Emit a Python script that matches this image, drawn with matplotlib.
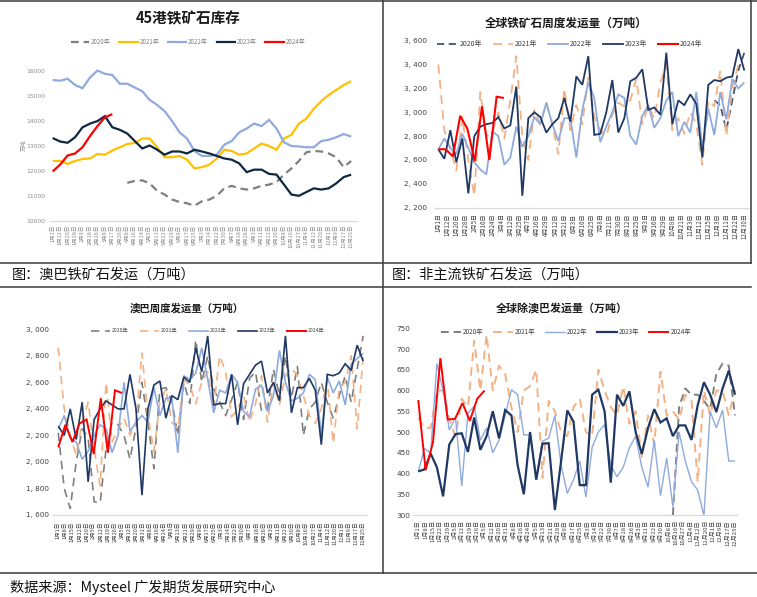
import numpy as np
import matplotlib.pyplot as plt
from matplotlib.lines import Line2D

plt.rcParams['font.family'] = ['Noto Sans CJK SC', 'DejaVu Sans']

W, H = 757, 597
nan = np.nan
years = ["2020年", "2021年", "2022年", "2023年", "2024年"]

# ---- 45港铁矿石库存 (万吨) ----
ticks1 = ["1月1日", "1月12日", "1月20日", "1月28日", "2月9日", "2月18日", "2月26日", "3月8日",
          "3月17日", "3月26日", "4月8日", "4月16日", "4月24日", "5月5日", "5月13日", "5月21日",
          "5月29日", "6月9日", "6月17日", "6月25日", "7月3日", "7月14日", "7月22日", "7月30日",
          "8月7日", "8月18日", "8月26日", "9月3日", "9月11日", "9月22日", "9月30日", "10月8日",
          "10月16日", "10月27日", "11月4日", "11月12日", "11月20日", "12月1日", "12月9日",
          "12月17日", "12月25日"]
inv_2020 = [nan] * 10 + [11520, 11600, 11620, 11500, 11200, 11050, 10850, 10750, 10700, 10600,
                         10780, 10850, 11000, 11300, 11400, 11300, 11250, 11300, 11400, 11450,
                         11550, 11850, 12100, 12400, 12750, 12800, 12780, 12700, 12550, 12150, 12400]
inv_2021 = [12400, 12400, 12280, 12400, 12480, 12500, 12680, 12650, 12820, 12950, 13080, 13120,
            13300, 13300, 12950, 12550, 12550, 12600, 12450, 12100, 12150, 12250, 12500, 12850,
            12800, 12650, 12700, 12900, 13100, 13000, 12850, 13300, 13450, 13900, 14100, 14500,
            14800, 15050, 15250, 15450, 15600]
inv_2022 = [15650, 15620, 15700, 15450, 15320, 15750, 16030, 15900, 15850, 15500, 15500, 15350,
            15200, 14850, 14650, 14400, 14000, 13550, 13300, 12800, 12600, 12600, 12650, 13050,
            13200, 13550, 13700, 13900, 13800, 14050, 13700, 13150, 13000, 12980, 12950, 12950,
            13200, 13250, 13350, 13480, 13380]
inv_2023 = [13320, 13180, 13130, 13350, 13750, 13900, 14000, 14200, 13750, 13650, 13500, 13200,
            12900, 13020, 12850, 12650, 12780, 12780, 12700, 12850, 12780, 12700, 12600, 12500,
            12450, 12300, 11950, 12050, 12050, 11880, 11850, 11450, 11050, 11000, 11150, 11300,
            11250, 11300, 11500, 11750, 11850]
inv_2024 = [11980, 12250, 12620, 12700, 12950, 13400, 13800, 14150, 14280]

# ---- 全球铁矿石周度发运量 ----
ticks2 = ["1月1日", "1月12日", "1月20日", "1月28日", "2月5日", "2月16日", "2月24日", "3月4日",
          "3月12日", "3月25日", "4月7日", "4月16日", "4月29日", "5月12日", "5月21日", "6月3日",
          "6月16日", "6月25日", "7月8日", "7月21日", "7月30日", "8月12日", "8月25日", "9月3日",
          "9月16日", "9月29日", "10月8日", "10月21日", "11月3日", "11月12日", "11月25日",
          "12月3日", "12月11日", "12月22日", "12月30日"]
glb_2020 = [nan] * 46 + [3100, 3060, 2850, 3100, 3350, 3500]
glb_2021 = [3400, 2850, 2700, 2510, 2960, 2600, 2300, 3170, 2800, 2830, 3000, 2780, 3100, 3470,
            2800, 2600, 3020, 2900, 3080, 2900, 2650, 3200, 2850, 3060, 2900, 3300, 2960, 2850,
            2800, 2980, 3080, 3050, 3100, 3280, 2900, 3050, 2950, 3250, 3400, 2850, 2950, 2820,
            3000, 2900, 2560, 3100, 3050, 3350, 2800, 3200, 3400, 3400]
glb_2022 = [2690, 2780, 2700, 2650, 2820, 2700, 2580, 2520, 2480, 2840, 2800, 2560, 2620, 2880,
            2710, 2800, 2960, 2900, 3080, 2900, 2760, 2950, 2950, 2620, 3020, 3250, 3120, 2750,
            2880, 3000, 3150, 3120, 2800, 2730, 2970, 3060, 2870, 2950, 3100, 3170, 2800, 2920,
            2830, 3170, 2700, 3030, 2810, 3170, 2940, 3280, 3200, 3250]
glb_2023 = [2690, 2610, 2850, 2580, 2780, 2320, 2800, 2880, 2900, 2910, 2960, 2865, 2890, 3215,
            2300, 2950, 3000, 2960, 2830, 2900, 2950, 3120, 2920, 3300, 3230, 3470, 2810, 2820,
            3000, 3270, 2830, 2950, 3260, 3290, 3360, 3020, 3040, 2980, 3500, 2900, 3100, 3060,
            3150, 3070, 2620, 3230, 3270, 3260, 3290, 3300, 3530, 3350]
glb_2024 = [2690, 2690, 2630, 2970, 2860, 2590, 3050, 2600, 3130, 3120]

# ---- 澳巴周度发运量 / 全球除澳巴发运量 ----
ticks3 = ["1月1日", "1月8日", "1月15日", "1月22日", "1月29日", "2月5日", "2月12日", "2月19日",
          "2月26日", "3月5日", "3月12日", "3月20日", "3月31日", "4月8日", "4月16日", "4月24日",
          "5月5日", "5月13日", "5月21日", "5月29日", "6月9日", "6月17日", "6月25日", "7月3日",
          "7月14日", "7月22日", "7月30日", "8月7日", "8月18日", "8月26日", "9月3日", "9月11日",
          "9月22日", "9月30日", "10月8日", "10月16日", "10月27日", "11月4日", "11月12日",
          "11月20日", "12月1日", "12月9日", "12月17日", "12月25日"]
ab_2020 = [2220, 1800, 1650, 2000, 2250, 2180, 1700, 1690, 2100, 2300, 2280, 2200, 2020, 2260,
           2600, 2300, 1950, 2550, 2560, 2460, 2200, 2600, 2440, 2920, 2600, 2800, 2550, 2450,
           2350, 2470, 2600, 2320, 2630, 2680, 2380, 2400, 2700, 2500, 2800, 2480, 2720, 2200,
           2400, 2450, 2600, 2450, 2330, 2500, 2650, 2450, 2700, 2950]
ab_2021 = [2860, 2400, 2200, 2050, 2300, 2450, 2100, 1820, 2600, 2150, 2250, 2330, 2200, 2300,
           2820, 2350, 2080, 2450, 2550, 2300, 2250, 2620, 2580, 2440, 2600, 2680, 2410, 2800,
           2680, 2340, 2400, 2500, 2300, 2440, 2650, 2300, 2600, 2430, 2650, 2710, 2650, 2500,
           2350, 2290, 2400, 2620, 2140, 2560, 2600, 2800, 2250, 2790]
ab_2022 = [2250, 2350, 2180, 2150, 2020, 2080, 2200, 2280, 2250, 2070, 2200, 2600, 2230, 2300,
           2350, 2300, 2560, 2350, 2480, 2480, 2070, 2650, 2620, 2670, 2860, 2620, 2370, 2540,
           2520, 2660, 2600, 2380, 2340, 2550, 2580, 2380, 2500, 2840, 2600, 2460, 2480, 2520,
           2660, 2620, 2200, 2640, 2520, 2610, 2430, 2740, 2780, 2820]
ab_2023 = [2270, 2200, 2400, 2170, 2450, 1850, 2320, 2400, 2460, 2430, 2400, 2400, 2660, 2400,
           1750, 2400, 2580, 2610, 2330, 2500, 2470, 2640, 2600, 2860, 2680, 2950, 2430, 2440,
           2440, 2660, 2280, 2590, 2660, 2730, 2760, 2520, 2600, 2460, 2950, 2370, 2560, 2560,
           2630, 2540, 2130, 2660, 2650, 2670, 2740, 2690, 2880, 2760]
ab_2024 = [2110, 2280, 2150, 2290, 2320, 2060, 2480, 2070, 2540, 2520]

ex_2020 = [nan] * 41 + [300, 560, 605, 590, 590, 575, 555, 640, 665, 660, 540]
ex_2021 = [535, 510, 510, 600, 600, 530, 490, 580, 560, 720, 600, 735, 600, 660, 640, 560, 500,
           600, 610, 650, 390, 575, 550, 500, 490, 560, 580, 500, 490, 650, 600, 560, 540, 610,
           520, 550, 440, 540, 470, 645, 540, 550, 530, 590, 575, 380, 600, 540, 600, 600, 540, 600]
ex_2022 = [405, 460, 450, 665, 600, 505, 535, 370, 545, 562, 480, 510, 450, 480, 540, 602, 590,
           493, 493, 390, 478, 485, 540, 420, 352, 385, 430, 343, 463, 500, 518, 420, 392, 415,
           462, 490, 415, 367, 480, 347, 437, 320, 500, 430, 380, 360, 298, 550, 510, 553, 430, 430]
ex_2023 = [405, 410, 448, 415, 345, 470, 495, 497, 452, 535, 457, 490, 550, 485, 553, 540, 420,
           350, 500, 385, 472, 473, 312, 430, 552, 525, 372, 372, 590, 602, 550, 378, 590, 563,
           598, 500, 447, 510, 555, 523, 533, 490, 516, 516, 481, 565, 620, 590, 548, 605, 648, 590]
ex_2024 = [577, 408, 475, 678, 530, 532, 570, 527, 580, 600]

fig = plt.figure(figsize=(W / 100, H / 100), dpi=100)


def box(x0, y0, x1, y1):
    # axes placed by pixel edges (top-left origin)
    return fig.add_axes([x0 / W, 1 - y1 / H, (x1 - x0) / W, (y1 - y0) / H])


def xs(nlab, n, grid=None):
    grid = grid or n
    return np.linspace(0, nlab - 1, grid)[:n]


def style(ax, labels, xlim, ylim, yticks, ylabels, xs_, ys_, col, xpad, ypad):
    ax.set_xlim(*xlim)
    ax.set_ylim(*ylim)
    ax.set_xticks(np.arange(len(labels)))
    ax.set_xticklabels(labels, rotation=90, fontsize=xs_, color=col)
    ax.set_yticks(yticks)
    ax.set_yticklabels(ylabels, fontsize=ys_, color=col, family='DejaVu Sans')
    for s in ['top', 'right', 'left']:
        ax.spines[s].set_visible(False)
    ax.spines['bottom'].set_color('#D9D9D9')
    ax.spines['bottom'].set_linewidth(0.9)
    ax.tick_params(length=0)
    ax.tick_params(axis='x', pad=xpad)
    ax.tick_params(axis='y', pad=ypad)
    ax.patch.set_alpha(0)


def legend(ax, styles, cx, cy, fs, hl, cs, col):
    handles = [Line2D([], [], **st) for st in styles]
    ax.legend(handles, years, loc='center', bbox_to_anchor=(cx / W, 1 - cy / H),
              bbox_transform=fig.transFigure, ncol=5, frameon=False, fontsize=fs,
              handlelength=hl, columnspacing=cs, handletextpad=0.3, labelcolor=col,
              borderpad=0, borderaxespad=0)


def draw(ax, series, styles, nlab, grid24):
    for i, (vals, st) in enumerate(zip(series, styles)):
        g = grid24 if i == 4 else None
        ax.plot(xs(nlab, len(vals), g), vals, clip_on=False, solid_capstyle='butt',
                solid_joinstyle='miter', **st)


# panel 1
st1 = [dict(color='#7F7F7F', lw=1.6, ls='--', dashes=(3.5, 2.2)),
       dict(color='#FFC000', lw=1.6, ls='-'),
       dict(color='#8FAADC', lw=1.6, ls='-'),
       dict(color='#0E2841', lw=1.6, ls='-'),
       dict(color='#FF0000', lw=1.6, ls='-')]
ax1 = box(49.7, 71.3, 357.1, 220.7)
draw(ax1, [inv_2020, inv_2021, inv_2022, inv_2023, inv_2024], st1, len(ticks1), len(ticks1))
yt1 = np.arange(10000, 16001, 1000)
style(ax1, ticks1, (-0.4, 40.8), (10000, 16000), yt1, [str(v) for v in yt1],
      4.0, 4.3, '#8C8C8C', 3.0, 3.2)
legend(ax1, st1, 188, 42, 4.4, 3.0, 1.4, '#7F7F7F')
ax1.text(188 / W, 1 - 18 / H, "45港铁矿石库存", transform=fig.transFigure, ha='center',
         va='center', fontsize=10.5, fontweight='bold', color='#1a1a1a')
fig.text(24 / W, 1 - 145 / H, "万吨", rotation=90, ha='center', va='center',
         fontsize=4.2, color='#8C8C8C')

# panel 2
st2 = [dict(color='#44546A', lw=1.3, ls='--', dashes=(4, 2.5)),
       dict(color='#F4B183', lw=1.3, ls='--', dashes=(5, 3.5)),
       dict(color='#8FAADC', lw=1.3, ls='-'),
       dict(color='#1F3864', lw=1.3, ls='-'),
       dict(color='#FF0000', lw=1.5, ls='-')]
ax2 = box(435.0, 40.7, 747.9, 207.7)
draw(ax2, [glb_2020, glb_2021, glb_2022, glb_2023, glb_2024], st2, len(ticks2), 43)
yt2 = np.arange(2200, 3601, 200)
style(ax2, ticks2, (-0.37, 34.4), (2200, 3600), yt2, [f"{v:,}".replace(",", ", ") for v in yt2],
      4.4, 5.2, '#404040', 4.0, 5.6)
legend(ax2, st2, 570, 44.3, 5.0, 2.9, 1.5, '#404040')
fig.text(566 / W, 1 - 23 / H, "全球铁矿石周度发运量（万吨）", ha='center', va='center',
         fontsize=8.4, fontweight='bold', color='#1a1a1a')

# panel 3
st3 = [dict(color='#7F7F7F', lw=1.2, ls='--', dashes=(5, 3.5)),
       dict(color='#F4B183', lw=1.2, ls='--', dashes=(5, 3.5)),
       dict(color='#8FAADC', lw=1.2, ls='-'),
       dict(color='#1F3864', lw=1.2, ls='-'),
       dict(color='#FF0000', lw=1.4, ls='-')]
ax3 = box(53.3, 329.3, 367.4, 515.0)
draw(ax3, [ab_2020, ab_2021, ab_2022, ab_2023, ab_2024], st3, len(ticks3), len(ticks3))
yt3 = np.arange(1600, 3001, 200)
style(ax3, ticks3, (-0.7, 43.6), (1600, 3000), yt3, [f"{v:,}".replace(",", ", ") for v in yt3],
      4.0, 5.2, '#404040', 4.6, 3.0)
legend(ax3, st3, 208, 331, 3.7, 3.7, 2.3, '#404040')
fig.text(187 / W, 1 - 308 / H, "澳巴周度发运量（万吨）", ha='center', va='center',
         fontsize=7.5, fontweight='bold', color='#1a1a1a')

# panel 4
st4 = [dict(color='#7F7F7F', lw=1.4, ls='--', dashes=(4, 2.5)),
       dict(color='#F4B183', lw=1.4, ls='--', dashes=(4.5, 3)),
       dict(color='#8FAADC', lw=1.0, ls='-'),
       dict(color='#1F3864', lw=1.6, ls='-'),
       dict(color='#FF0000', lw=1.4, ls='-')]
ax4 = box(413.1, 328.3, 737.2, 515.0)
draw(ax4, [ex_2020, ex_2021, ex_2022, ex_2023, ex_2024], st4, len(ticks3), len(ticks3))
yt4 = np.arange(300, 751, 50)
style(ax4, ticks3, (-0.7, 43.3), (300, 750), yt4, [str(v) for v in yt4],
      4.3, 5.2, '#404040', 3.6, 2.2)
legend(ax4, st4, 566, 332.3, 4.6, 3.1, 1.5, '#404040')
fig.text(562 / W, 1 - 308 / H, "全球除澳巴发运量（万吨）", ha='center', va='center',
         fontsize=7.9, fontweight='bold', color='#1a1a1a')


# page frame lines and captions
def hline(y, x0, x1, lw=1.1):
    fig.add_artist(Line2D([x0 / W, x1 / W], [1 - y / H, 1 - y / H], transform=fig.transFigure,
                          color='#3a3a3a', lw=lw))


def vline(x, y0, y1, lw=1.1):
    fig.add_artist(Line2D([x / W, x / W], [1 - y0 / H, 1 - y1 / H], transform=fig.transFigure,
                          color='#3a3a3a', lw=lw))


hline(1, 0, W)
hline(263, 0, 751)
hline(287, 0, 751)
hline(573, 0, W)
vline(382.5, 0, 573)
vline(751, 0, 263)

fig.text(12 / W, 1 - 275 / H, "图：澳巴铁矿石发运（万吨）", ha='left', va='center',
         fontsize=10.2, color='#111111')
fig.text(392 / W, 1 - 275 / H, "图：非主流铁矿石发运（万吨）", ha='left', va='center',
         fontsize=10.2, color='#111111')
fig.text(10 / W, 1 - 587 / H, "数据来源：Mysteel 广发期货发展研究中心", ha='left', va='center',
         fontsize=10.2, color='#111111')

fig.savefig("out.png", dpi=100)
